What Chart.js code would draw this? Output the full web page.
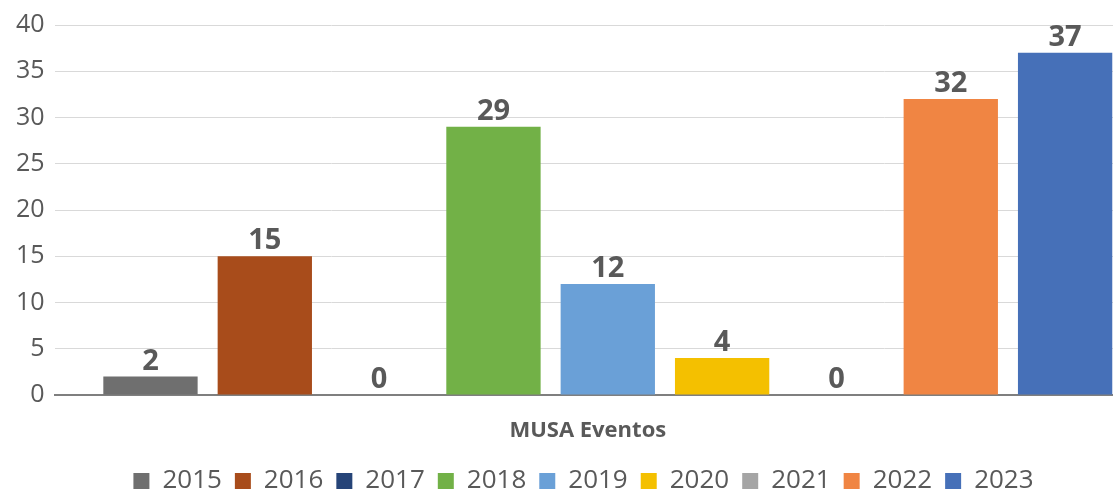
<!DOCTYPE html>
<html>
<head>
<meta charset="utf-8">
<script src="https://cdn.jsdelivr.net/npm/chart.js@4/dist/chart.umd.min.js"></script>
<style>
  html, body { margin: 0; padding: 0; background: #fff; overflow: hidden; }
  #wrap { width: 1113px; height: 492px; overflow: hidden; position: relative; }
  canvas { display: block; }
</style>
</head>
<body>
<div id="wrap"><canvas id="c" width="1161" height="492"></canvas></div>
<script>
const categories = ['MUSA Eventos'];
const years = ['2015', '2016', '2017', '2018', '2019', '2020', '2021', '2022', '2023'];
const values = [2, 15, 0, 29, 12, 4, 0, 32, 37];
const colors = ['#6f6f6f', '#a84c1b', '#264478', '#72b147', '#6aa0d7', '#f4c000', '#a5a5a5', '#f08543', '#4670b8'];
const yTicks = { min: 0, max: 40, step: 5 };

const FONT = "'Open Sans', 'Noto Sans', sans-serif";
const TEXT = '#595959';

const datasets = years.map((y, i) => ({
  label: y,
  data: [values[i]],
  backgroundColor: colors[i],
  borderWidth: 0,
  barPercentage: 0.825,
  categoryPercentage: 0.93
}));

const valueLabels = {
  id: 'valueLabels',
  afterDatasetsDraw(chart) {
    const ctx = chart.ctx;
    ctx.save();
    ctx.font = 'bold 29px ' + FONT;
    ctx.fillStyle = TEXT;
    ctx.textAlign = 'center';
    ctx.textBaseline = 'alphabetic';
    chart.data.datasets.forEach((ds, i) => {
      const meta = chart.getDatasetMeta(i);
      meta.data.forEach((el, j) => {
        const v = ds.data[j];
        ctx.fillText(String(v), el.x, el.y - 7);
      });
    });
    ctx.restore();
  }
};

new Chart(document.getElementById('c'), {
  type: 'bar',
  data: { labels: categories, datasets },
  plugins: [valueLabels],
  options: {
    responsive: false,
    devicePixelRatio: 1,
    animation: false,
    layout: { padding: { top: 11, left: 6, right: 0, bottom: -12 } },
    plugins: {
      tooltip: { enabled: false },
      legend: {
        position: 'bottom',
        labels: {
          boxWidth: 16,
          boxHeight: 16,
          padding: 13,
          color: TEXT,
          font: { family: FONT, size: 26 }
        }
      }
    },
    scales: {
      x: {
        grid: { display: false, drawTicks: false },
        border: { display: true, color: '#7f7f7f', width: 2 },
        afterFit(scale) { scale.height = 60; },
        ticks: {
          color: TEXT,
          padding: 23,
          labelOffset: -20,
          font: { family: FONT, size: 22, weight: 'bold' }
        }
      },
      y: {
        min: yTicks.min,
        max: yTicks.max,
        border: { display: false },
        grid: { color: '#d9d9d9', lineWidth: 1, drawTicks: false },
        ticks: {
          stepSize: yTicks.step,
          color: TEXT,
          padding: 10,
          font: { family: FONT, size: 25 }
        }
      }
    }
  }
});
</script>
</body>
</html>
